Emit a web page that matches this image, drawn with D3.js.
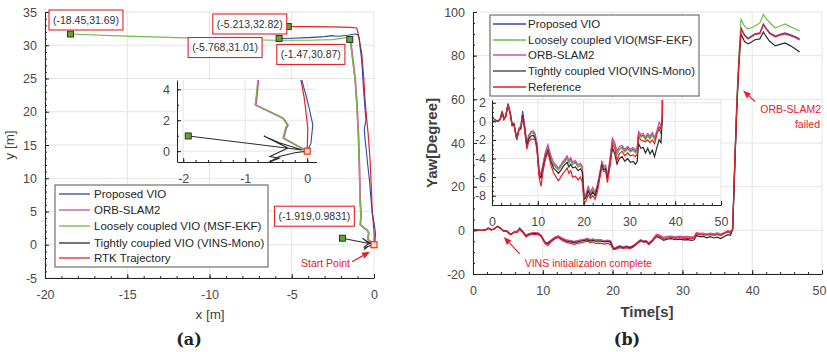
<!DOCTYPE html>
<html><head><meta charset="utf-8">
<script src="https://cdn.jsdelivr.net/npm/d3@7"></script>
<style>
body{margin:0;background:#fff}
svg{display:block}
</style></head><body>
<svg id="chart" width="827" height="352"></svg>
<script>
// ---------- Panel (a): planar trajectories, metres ----------
const rtkX = [0,0.01,-0.05,-0.11,-0.15,-0.24,-0.35,-0.45,-0.55,-0.62,-0.75,-0.9,-0.98,-1.05,-1.4,-2.6,-4.0,-5.213];
const rtkY = [0,1.5,3.5,4.8,8,12.8,16.5,19,22,25,28.9,30.8,32.0,32.6,32.7,32.75,32.8,32.82];

const vioX = [0,0.06,0.09,0.02,-0.08,-0.14,-0.22,-0.28,-0.38,-0.45,-0.55,-0.59,-0.49,-0.55,-0.65,-0.7,-0.75,-0.85,-0.89,-1.0,-1.15,-1.6,-2.2,-2.6,-3.0,-4.0,-5.0,-5.768];
const vioY = [0,0.5,1.7,3.0,4.5,5.7,8,9.8,12,13.8,16,17.3,18.8,20.5,23.8,26,27.8,29.8,31.1,31.6,31.7,31.5,31.35,31.45,31.3,31.15,31.05,31.01];

const orbX = [0,-0.38,-0.34,-0.31,-0.39,-0.83,-0.81,-0.79,-0.84,-0.88,-0.94,-1.04,-1.14,-1.28,-1.4,-1.47];
const orbY = [0,0.83,1.48,1.68,2.13,2.98,3.64,4.5,6.8,11.3,16.3,21.3,24.8,27.8,30.2,30.87];

const msfX = [0,-0.39,-0.35,-0.32,-0.4,-0.84,-0.82,-0.8,-0.85,-0.89,-0.95,-1.05,-1.15,-1.3,-1.42,-1.56,-2.5,-4,-6,-8,-10,-12,-14,-16,-18.45];
const msfY = [0,0.85,1.5,1.7,2.15,3.0,3.66,4.5,6.8,11.3,16.3,21.3,24.8,27.8,30.3,31.2,30.85,30.75,30.75,30.85,31.0,31.15,31.3,31.45,31.69];

const vinsX = [0,-0.2,-0.45,-0.62,-0.45,-0.6,-0.31,-0.7,-0.45,-0.08,-1.919];
const vinsY = [0,-0.1,-0.35,-0.72,-0.45,-0.35,0.2,0.98,0.55,0.08,0.9831];

// end points that carry a coordinate label
const endX = [-18.45,-5.213,-5.768,-1.47,-1.919];
const endY = [31.69,32.82,31.01,30.87,0.9831];

const trajNames = ["Proposed VIO","ORB-SLAM2","Loosely coupled VIO (MSF-EKF)","Tightly coupled VIO (VINS-Mono)","RTK Trajectory"];

// ---------- Panel (b): yaw over time ----------
const yawTime = [0,1.3,1.8,2.2,2.6,3.0,3.5,4.0,4.4,4.8,
 5.4,5.9,6.3,6.7,7.1,7.6,8.0,8.5,9.0,9.4,
 9.8,10.3,10.7,11.2,11.7,12.2,12.8,13.4,14.0,14.5,
 15.0,15.5,16.0,16.4,16.8,17.2,17.6,18.2,18.8,19.3,
 19.7,20.1,20.5,21.0,21.5,22.0,22.5,23.0,23.5,24.0,
 24.4,24.8,25.2,25.7,26.3,26.8,27.3,27.8,28.4,29.0,
 29.6,30.2,30.8,31.3,31.7,32.0,32.5,33.0,33.5,34.0,
 34.5,35.0,35.5,36.0,36.5,36.9,37.2,37.5,37.8,38.1,
 38.4,38.9,39.4,39.9,40.4,41.1,41.6,42.0,42.5,43.3,
 44.0,44.7,45.5,46.2,46.8];

const yawVIO = [0.4,0,0.3,1.1,0.3,0.6,1.9,0.9,-0.4,-0.3,
 -1.9,-0.8,-0.6,1.1,-0.5,-2.5,-1.7,-1.3,-1.2,-1.5,
 -2.5,-5.5,-5.9,-4.6,-3.4,-2.7,-3.8,-4.6,-4.9,-5.2,
 -4.9,-4.5,-4.2,-3.9,-4.4,-4.1,-4.6,-4.4,-4.9,-4.7,
 -5.0,-8.2,-8.0,-7.2,-7.8,-7.3,-7.8,-7.0,-5.8,-4.5,
 -5.0,-4.9,-6.0,-4.5,-2.0,-2.5,-3.5,-3.0,-2.8,-3.2,
 -2.9,-3.2,-3.0,-3.3,-3.0,-1.3,-1.6,-1.5,-1.9,-1.5,
 -1.8,-1.4,-1.9,-1.2,-0.8,-1.3,0.5,30,58,78,
 92.7,89.5,88.0,89.0,90.0,90.4,94.5,92.5,90.5,89.0,
 89.8,90.4,89.5,88.6,87.6];

const yawMSF = [0,0,0.3,1.0,0.3,0.6,1.8,0.8,-0.4,-0.3,
 -1.9,-0.8,-0.7,0.8,-0.5,-2.5,-1.7,-1.3,-1.2,-1.5,
 -2.5,-5.6,-6.0,-4.6,-3.4,-2.8,-3.8,-4.7,-5.0,-5.2,
 -4.9,-4.5,-4.3,-4.0,-4.5,-4.2,-4.6,-4.5,-4.9,-4.7,
 -5.1,-8.2,-8.0,-7.2,-7.8,-7.3,-7.8,-7.0,-5.8,-4.5,
 -5.0,-4.9,-6.0,-4.5,-2.1,-2.6,-3.5,-3.0,-2.9,-3.3,
 -3.0,-3.3,-3.1,-3.4,-3.1,-1.4,-1.7,-1.6,-2.0,-1.6,
 -1.9,-1.5,-2.0,-1.3,-0.6,-1.1,0.5,31,60,80,
 96.7,93.5,92.2,92.8,93.6,95.0,98.9,97.0,95.2,92.7,
 93.6,94.5,93.2,92.2,91.3];

// ORB-SLAM2 stops when tracking is lost during the fast turn
const yawORB = [0,0,0.3,1.1,0.3,0.6,1.9,0.9,-0.3,-0.2,
 -1.8,-0.7,-0.5,0.9,-0.4,-2.3,-1.5,-1.1,-1.0,-1.3,
 -2.3,-5.3,-5.7,-4.4,-3.2,-2.5,-3.6,-4.4,-4.7,-5.0,
 -4.7,-4.3,-4.0,-3.7,-4.2,-3.9,-4.4,-4.2,-4.7,-4.5,
 -4.8,-8.0,-7.8,-7.0,-7.6,-7.1,-7.6,-6.8,-5.6,-4.3,
 -4.8,-4.7,-5.8,-4.3,-1.8,-2.3,-3.2,-2.7,-2.6,-3.0,
 -2.7,-3.0,-2.8,-3.1,-2.8,-1.1,-1.4,-1.3,-1.7,-1.3,
 -1.6,-1.2,-1.7,-1.0,-0.1,-0.5,0.5,30,58];

const yawVINS = [0,0,0.2,1.0,0.2,0.5,1.8,0.8,-0.4,-0.3,
 -1.9,-0.9,-0.8,0.7,-0.6,-2.6,-1.9,-1.6,-1.5,-1.8,
 -2.8,-5.8,-6.1,-4.9,-3.8,-3.1,-4.2,-5.0,-5.3,-5.6,
 -5.3,-4.9,-4.6,-4.4,-4.9,-4.6,-5.0,-4.9,-5.3,-5.1,
 -5.4,-8.4,-8.2,-7.5,-8.0,-7.6,-8.0,-7.2,-6.0,-4.7,
 -5.2,-5.1,-6.2,-4.8,-2.9,-3.5,-4.6,-4.0,-3.8,-4.3,
 -4.0,-4.4,-4.3,-4.6,-4.3,-2.4,-2.9,-2.8,-3.4,-2.9,
 -3.5,-3.1,-3.8,-2.8,-2.0,-2.3,0.5,29,56,76,
 89.9,86.5,85.4,86.3,87.3,87.7,90.9,88.8,86.6,84.5,
 85.2,85.8,84.5,83.0,81.7];

const yawRef = [0,0,0.2,0.9,0.2,0.5,1.8,0.7,-0.5,-0.4,
 -2.0,-0.9,-0.8,0.4,-0.9,-3.0,-2.2,-1.9,-1.9,-2.0,
 -3.0,-6.0,-7.0,-5.2,-4.0,-3.3,-4.6,-5.5,-6.0,-6.4,
 -6.0,-5.6,-5.3,-5.0,-5.6,-5.3,-6.0,-5.9,-6.3,-6.0,
 -6.5,-8.8,-8.6,-7.9,-8.3,-8.0,-8.4,-7.6,-6.2,-5.0,
 -5.4,-5.3,-6.6,-5.0,-2.4,-2.9,-4.2,-3.5,-3.2,-3.7,
 -3.4,-3.7,-3.6,-3.8,-3.5,-1.6,-2.0,-2.1,-2.2,-2.0,
 -2.3,-2.0,-2.4,-1.4,-0.6,-0.8,0.5,30,58,78,
 92.4,89.2,87.6,88.7,89.7,90.1,94.2,92.2,90.1,88.6,
 89.4,90.0,89.1,88.2,87.2];

const yawNames = ["Proposed VIO","Loosely coupled VIO(MSF-EKF)","ORB-SLAM2","Tightly coupled VIO(VINS-Mono)","Reference"];

// ---------- styling ----------
const FF = '"Liberation Sans", Arial, Helvetica, sans-serif';
const AXC = "#262626", TXC = "#4a4a4a", GRID = "#e4e4e4", RED = "#e8202a";
const C_BLUE = "#2f48a8", C_ORB = "#d04c9e", C_GREEN = "#6cbf45", C_BLACK = "#2b2b2b";
const svg = d3.select("#chart");
const zip = (xs, ys) => xs.map((v, i) => [v, ys[i]]);

function drawGrid(g, x, y, xt, yt) {
  const [y0, y1] = y.range(), [x0, x1] = x.range();
  g.append("g").selectAll("line").data(xt).join("line")
    .attr("x1", d => x(d)).attr("x2", d => x(d)).attr("y1", y0).attr("y2", y1)
    .attr("stroke", GRID).attr("stroke-width", 1);
  g.append("g").selectAll("line").data(yt).join("line")
    .attr("y1", d => y(d)).attr("y2", d => y(d)).attr("x1", x0).attr("x2", x1)
    .attr("stroke", GRID).attr("stroke-width", 1);
}

function drawAxes(g, x, y, o) {
  const fmt = d => String(d);
  const gx = g.append("g").attr("transform", `translate(0,${y.range()[0]})`)
    .call(d3.axisBottom(x).tickValues(o.xt).tickFormat(fmt).tickSizeInner(-4).tickSizeOuter(0).tickPadding(o.padX));
  const gxm = g.append("g").attr("transform", `translate(0,${y.range()[0]})`)
    .call(d3.axisBottom(x).tickValues(o.xm).tickFormat("").tickSizeInner(-2).tickSizeOuter(0));
  gxm.select(".domain").remove();
  const gy = g.append("g").attr("transform", `translate(${x.range()[0]},0)`)
    .call(d3.axisLeft(y).tickValues(o.yt).tickFormat(fmt).tickSizeInner(-4).tickSizeOuter(0).tickPadding(o.padY));
  const gym = g.append("g").attr("transform", `translate(${x.range()[0]},0)`)
    .call(d3.axisLeft(y).tickValues(o.ym).tickFormat("").tickSizeInner(-2).tickSizeOuter(0));
  gym.select(".domain").remove();
  [gx, gy, gxm, gym].forEach(a => {
    a.attr("font-family", FF).attr("font-size", 12.5);
    a.select(".domain").attr("stroke", AXC);
    a.selectAll(".tick line").attr("stroke", AXC);
    a.selectAll(".tick text").attr("fill", TXC);
  });
  return gx;
}

function arrow(g, x1, y1, x2, y2) {
  const a = Math.atan2(y2 - y1, x2 - x1), L = 8, w = 3.2;
  const bx = x2 - L * Math.cos(a), by = y2 - L * Math.sin(a);
  g.append("line").attr("x1", x1).attr("y1", y1).attr("x2", bx).attr("y2", by)
    .attr("stroke", RED).attr("stroke-width", 1.2);
  g.append("path")
    .attr("d", `M${x2},${y2}L${bx - w * Math.sin(a)},${by + w * Math.cos(a)}L${bx + w * Math.sin(a)},${by - w * Math.cos(a)}Z`)
    .attr("fill", RED);
}

function legend(g, x0, y0, w, rows, names, colors, lx0, lx1, tx) {
  g.append("rect").attr("x", x0).attr("y", y0).attr("width", w).attr("height", rows[rows.length - 1] - y0 + 9)
    .attr("fill", "#fff").attr("stroke", "#555").attr("stroke-width", 1);
  names.forEach((n, i) => {
    g.append("line").attr("x1", lx0).attr("x2", lx1).attr("y1", rows[i]).attr("y2", rows[i])
      .attr("stroke", colors[i]).attr("stroke-width", 1.3);
    g.append("text").attr("x", tx).attr("y", rows[i]).attr("dy", "0.35em")
      .attr("font-family", FF).attr("font-size", 11.5).attr("fill", "#262626").text(n);
  });
}

// ======================= Panel (a) =======================
const ax = d3.scaleLinear().domain([-20, 0]).range([45, 374]);
const ay = d3.scaleLinear().domain([-5, 35]).range([278, 12]);
const pa = svg.append("g");
drawGrid(pa, ax, ay, [-20, -15, -10, -5, 0], d3.range(-5, 36, 5));

const lineA = d3.line().x(d => ax(d[0])).y(d => ay(d[1]));
function drawTraj(g, line) {
  g.append("path").attr("d", line(zip(orbX, orbY))).attr("fill", "none").attr("stroke", C_ORB).attr("stroke-width", 1.8);
  g.append("path").attr("d", line(zip(msfX, msfY))).attr("fill", "none").attr("stroke", C_GREEN).attr("stroke-width", 1.2);
  g.append("path").attr("d", line(zip(vinsX, vinsY))).attr("fill", "none").attr("stroke", C_BLACK).attr("stroke-width", 1.1);
  g.append("path").attr("d", line(zip(rtkX, rtkY))).attr("fill", "none").attr("stroke", RED).attr("stroke-width", 1.2);
  g.append("path").attr("d", line(zip(vioX, vioY))).attr("fill", "none").attr("stroke", C_BLUE).attr("stroke-width", 1.1);
}
drawTraj(pa, lineA);

function endMarkers(g, x, y, xs, ys) {
  g.selectAll(null).data(zip(xs, ys)).join("rect")
    .attr("x", d => x(d[0]) - 3).attr("y", d => y(d[1]) - 3).attr("width", 6).attr("height", 6)
    .attr("fill", "#5ea832").attr("stroke", "#222").attr("stroke-width", 0.9);
}
function startMarker(g, x, y) {
  g.append("rect").attr("x", x(0) - 3).attr("y", y(0) - 3).attr("width", 6).attr("height", 6)
    .attr("fill", "#f6e7a0").attr("stroke", RED).attr("stroke-width", 1.1);
}
endMarkers(pa, ax, ay, endX, endY);
startMarker(pa, ax, ay);

drawAxes(pa, ax, ay, {
  xt: [-20, -15, -10, -5, 0], xm: d3.range(-20, 0.5, 1),
  yt: d3.range(-5, 36, 5), ym: d3.range(-5, 35.5, 1), padX: 12, padY: 8
});

// coordinate call-outs
const boxOffsets = [[15.5, -14], [-38.5, -2.5], [-54, 9], [-39, 15], [-28, -22]];
endX.forEach((vx, i) => {
  const cx = ax(vx) + boxOffsets[i][0], cy = ay(endY[i]) + boxOffsets[i][1];
  const gb = pa.append("g");
  const r = gb.append("rect");
  const t = gb.append("text").attr("x", cx).attr("y", cy).attr("dy", "0.35em").attr("text-anchor", "middle")
    .attr("font-family", FF).attr("font-size", 10.5).attr("fill", "#333").text(`(${vx},${endY[i]})`);
  const w = t.node().getComputedTextLength() + 8;
  r.attr("x", cx - w / 2).attr("y", cy - 10).attr("width", w).attr("height", 20)
    .attr("fill", "#fff").attr("stroke", RED).attr("stroke-width", 1.1);
});

// start point annotation
const spx = ax(0), spy = ay(0);
arrow(pa, spx - 22, spy + 17, spx - 4, spy + 7);
pa.append("text").attr("x", spx - 24).attr("y", spy + 22).attr("text-anchor", "end")
  .attr("font-family", FF).attr("font-size", 10.5).attr("fill", RED).text("Start Point");

// zoomed view near the start point
const ix = d3.scaleLinear().domain([-2.1, 0.15]).range([177, 316.5]);
const iy = d3.scaleLinear().domain([-0.7, 4.6]).range([162, 80]);
const ia = svg.append("g");
ia.append("rect").attr("x", 177).attr("y", 80).attr("width", 139.5).attr("height", 82).attr("fill", "#fff");
drawGrid(ia, ix, iy, [-2, -1, 0], [0, 2, 4]);
ia.append("clipPath").attr("id", "clipA").append("rect").attr("x", 177).attr("y", 80).attr("width", 139.5).attr("height", 82);
const iaPlot = ia.append("g").attr("clip-path", "url(#clipA)");
drawTraj(iaPlot, d3.line().x(d => ix(d[0])).y(d => iy(d[1])));
endMarkers(iaPlot, ix, iy, endX, endY);
startMarker(iaPlot, ix, iy);
drawAxes(ia, ix, iy, {
  xt: [-2, -1, 0], xm: d3.range(-2, 0.01, 0.2).map(v => +v.toFixed(1)),
  yt: [0, 2, 4], ym: [0, 1, 2, 3, 4], padX: 12, padY: 7
});

legend(pa, 55, 185, 213, [194, 210, 226, 243, 258], trajNames,
  [C_BLUE, C_ORB, C_GREEN, C_BLACK, RED], 59, 90, 94);

pa.append("text").attr("transform", "translate(14,145) rotate(-90)").attr("text-anchor", "middle")
  .attr("font-family", FF).attr("font-size", 13.5).attr("fill", "#404040").text("y [m]");
pa.append("text").attr("x", 210).attr("y", 319).attr("text-anchor", "middle")
  .attr("font-family", FF).attr("font-size", 13.5).attr("fill", "#404040").text("x [m]");
pa.append("text").attr("x", 189).attr("y", 345).attr("text-anchor", "middle")
  .attr("font-family", '"DejaVu Serif", serif').attr("font-weight", "bold").attr("font-size", 16).attr("fill", "#222").text("(a)");

// ======================= Panel (b) =======================
const bx = d3.scaleLinear().domain([0, 50]).range([473, 822]);
const by = d3.scaleLinear().domain([-20, 100]).range([274, 12]);
const pb = svg.append("g");
drawGrid(pb, bx, by, d3.range(0, 51, 10), d3.range(-20, 101, 20));

const yawSeries = [
  { v: yawVIO, c: C_BLUE }, { v: yawMSF, c: C_GREEN }, { v: yawORB, c: C_ORB },
  { v: yawVINS, c: C_BLACK }, { v: yawRef, c: RED }
];
function drawYaw(g, x, y) {
  const ln = d3.line().x(d => x(d[0])).y(d => y(d[1]));
  yawSeries.forEach(s => {
    g.append("path").attr("d", ln(zip(yawTime.slice(0, s.v.length), s.v)))
      .attr("fill", "none").attr("stroke", s.c).attr("stroke-width", 1.2);
  });
}
pb.append("clipPath").attr("id", "clipB").append("rect").attr("x", 473).attr("y", 10).attr("width", 349).attr("height", 264);
drawYaw(pb.append("g").attr("clip-path", "url(#clipB)"), bx, by);

const gbx = drawAxes(pb, bx, by, {
  xt: d3.range(0, 51, 10), xm: d3.range(0, 50.1, 2),
  yt: d3.range(-20, 101, 20), ym: d3.range(-20, 100.1, 5), padX: 12, padY: 8
});
// keep the last time label inside the canvas edge
gbx.selectAll(".tick text").filter(d => d === 50).attr("dx", -3);

legend(pb, 490, 15, 209, [24, 40, 55, 71, 87], yawNames,
  [C_BLUE, C_GREEN, C_ORB, "#555", RED], 493, 526, 528);

// zoomed view of the first 37 s
const jx = d3.scaleLinear().domain([0, 50]).range([492, 721]);
const jy = d3.scaleLinear().domain([-9, 2.3]).range([205, 100]);
const ib = svg.append("g");
ib.append("rect").attr("x", 492).attr("y", 100).attr("width", 229).attr("height", 105).attr("fill", "#fff");
drawGrid(ib, jx, jy, d3.range(0, 51, 10), [-8, -6, -4, -2, 0, 2]);
ib.append("clipPath").attr("id", "clipC").append("rect").attr("x", 492).attr("y", 100).attr("width", 229).attr("height", 105);
drawYaw(ib.append("g").attr("clip-path", "url(#clipC)"), jx, jy);
drawAxes(ib, jx, jy, {
  xt: d3.range(0, 51, 10), xm: d3.range(0, 50.1, 2),
  yt: [-8, -6, -4, -2, 0, 2], ym: d3.range(-9, 2.01, 0.5), padX: 12, padY: 6
});

// annotations
const vx0 = bx(4.4), vy0 = by(-3);
arrow(pb, vx0 + 16, vy0 + 17, vx0, vy0);
pb.append("text").attr("x", vx0 + 21).attr("y", vy0 + 30)
  .attr("font-family", FF).attr("font-size", 10.5).attr("fill", RED).text("VINS initialization complete");
const ox0 = bx(38.7), oy0 = by(64);
arrow(pb, ox0 + 12, oy0 + 11, ox0, oy0);
pb.append("text").attr("x", 821).attr("y", oy0 + 22).attr("text-anchor", "end")
  .attr("font-family", FF).attr("font-size", 10.5).attr("fill", RED).text("ORB-SLAM2");
pb.append("text").attr("x", 820).attr("y", oy0 + 37).attr("text-anchor", "end")
  .attr("font-family", FF).attr("font-size", 10.5).attr("fill", RED).text("failed");

pb.append("text").attr("transform", "translate(437,143) rotate(-90)").attr("text-anchor", "middle")
  .attr("font-family", FF).attr("font-weight", "bold").attr("font-size", 15).attr("fill", "#404040").text("Yaw[Degree]");
pb.append("text").attr("x", 647).attr("y", 317).attr("text-anchor", "middle")
  .attr("font-family", FF).attr("font-weight", "bold").attr("font-size", 15).attr("fill", "#404040").text("Time[s]");
pb.append("text").attr("x", 627).attr("y", 345).attr("text-anchor", "middle")
  .attr("font-family", '"DejaVu Serif", serif').attr("font-weight", "bold").attr("font-size", 16).attr("fill", "#222").text("(b)");
</script>
</body></html>
